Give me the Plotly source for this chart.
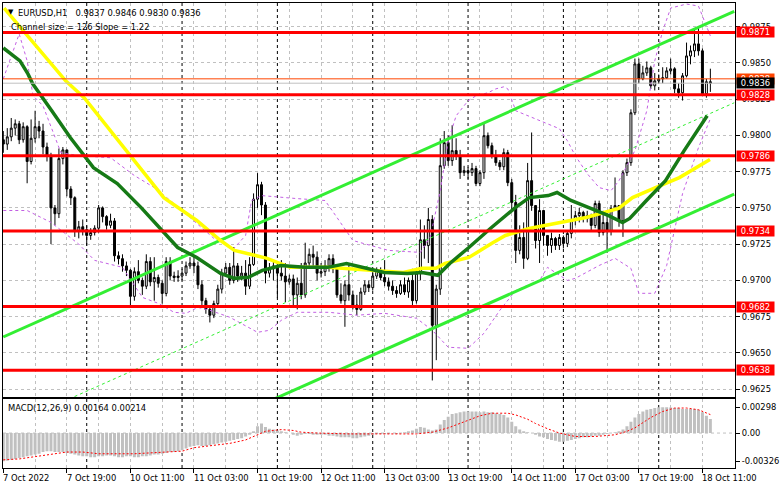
import plotly.graph_objects as go

# ---------------- data (EURUSD H1, 7 Oct 03:00 .. 18 Oct 13:00) ----------------
first_open = 0.9797
closes = [
    0.9794, 0.9799, 0.9805, 0.9808, 0.9797, 0.9806, 0.9782, 0.9798, 0.9806, 0.9803,
    0.9792, 0.9786, 0.9750, 0.9746, 0.9784, 0.9790, 0.9763, 0.9757, 0.9734, 0.9737,
    0.9735, 0.9731, 0.9733, 0.9736, 0.9750, 0.9744, 0.9738, 0.9741, 0.9717, 0.9715,
    0.9710, 0.9707, 0.9689, 0.9706, 0.9700, 0.9696, 0.9713, 0.9699, 0.9702, 0.9698,
    0.9691, 0.9713, 0.9703, 0.9702, 0.9703, 0.9705, 0.9710, 0.9712, 0.9710, 0.9697,
    0.9686, 0.9680, 0.9676, 0.9684, 0.9694, 0.9705, 0.9709, 0.9700, 0.9710, 0.9703,
    0.9705, 0.9696, 0.9711, 0.9756, 0.9766, 0.9752, 0.9705, 0.9708, 0.9710, 0.9705,
    0.9703, 0.9699, 0.9701, 0.9690, 0.9698, 0.9690, 0.9712, 0.9718, 0.9716, 0.9705,
    0.9706, 0.9710, 0.9715, 0.9708, 0.9690, 0.9686, 0.9697, 0.9690, 0.9683, 0.9680,
    0.9692, 0.9697, 0.9695, 0.9703, 0.9707, 0.9702, 0.9699, 0.9696, 0.9693, 0.9691,
    0.9697, 0.9692, 0.9700, 0.9686, 0.9705, 0.9728, 0.9724, 0.9742, 0.9669, 0.9694,
    0.97791, 0.97950, 0.97826, 0.97895, 0.97860, 0.97743, 0.97757, 0.97743, 0.97771, 0.97668,
    0.97743, 0.97998, 0.97929, 0.97860, 0.97812, 0.97784, 0.97881, 0.97674, 0.97537, 0.97207,
    0.97296, 0.97152, 0.97688, 0.97516, 0.97275, 0.97482, 0.97310, 0.97241, 0.97289, 0.97241,
    0.97296, 0.97255, 0.97324, 0.97413, 0.97447, 0.97468, 0.97427, 0.97447, 0.97379, 0.97530,
    0.97330, 0.97399, 0.97344, 0.97496, 0.97516, 0.97413, 0.97743, 0.97812, 0.98156, 0.98493,
    0.98390, 0.98431, 0.98466, 0.98342, 0.98376, 0.98390, 0.98397, 0.98445, 0.98459, 0.98321,
    0.98294, 0.98411, 0.98548, 0.98583, 0.98631, 0.98583, 0.98287, 0.9837, 0.9836,
]
highs = [
    0.9803, 0.9805, 0.9812, 0.9811, 0.9810, 0.9809, 0.9807, 0.9811, 0.9817, 0.9810,
    0.9808, 0.9795, 0.9788, 0.9752, 0.9791, 0.9792, 0.9790, 0.9765, 0.9758, 0.9741,
    0.9742, 0.9738, 0.9736, 0.9738, 0.9752, 0.9751, 0.9745, 0.9746, 0.9743, 0.9720,
    0.9718, 0.9713, 0.9708, 0.9709, 0.9714, 0.9702, 0.9718, 0.9716, 0.9716, 0.9704,
    0.9700, 0.9716, 0.9716, 0.9706, 0.9707, 0.9708, 0.9713, 0.9716, 0.9716, 0.9713,
    0.9700, 0.9688, 0.9683, 0.9686, 0.9697, 0.9708, 0.9712, 0.9712, 0.9723, 0.9712,
    0.9710, 0.9714, 0.9716, 0.9760, 0.9774, 0.9768, 0.9754, 0.9712, 0.9714, 0.9712,
    0.9714, 0.9712, 0.9704, 0.9704, 0.9702, 0.9712, 0.9726, 0.9722, 0.9724, 0.9720,
    0.9712, 0.9714, 0.9718, 0.9718, 0.9710, 0.9698, 0.9700, 0.9712, 0.9693, 0.9690,
    0.9695, 0.9700, 0.9700, 0.9706, 0.9709, 0.9709, 0.9714, 0.9702, 0.9700, 0.9696,
    0.9700, 0.9702, 0.9702, 0.9708, 0.9707, 0.9742, 0.9738, 0.9750, 0.9745, 0.9697,
    0.9798, 0.9803, 0.9800, 0.9807, 0.9798, 0.9790, 0.9779, 0.9778, 0.9781, 0.9779,
    0.9776, 0.9809, 0.9802, 0.9795, 0.9790, 0.9783, 0.9791, 0.9790, 0.9770, 0.9759,
    0.9738, 0.9740, 0.9781, 0.9802, 0.9752, 0.9756, 0.9745, 0.9731, 0.9733, 0.9730,
    0.9732, 0.9731, 0.9734, 0.9752, 0.9748, 0.9750, 0.9748, 0.9748, 0.9746, 0.9755,
    0.9755, 0.9748, 0.9747, 0.9752, 0.9771, 0.9752, 0.9776, 0.9784, 0.9818, 0.9853,
    0.9853, 0.9848, 0.9851, 0.9848, 0.9843, 0.9842, 0.9847, 0.9847, 0.9853, 0.9847,
    0.9836, 0.9843, 0.9864, 0.9862, 0.9873, 0.9874, 0.9860, 0.9839, 0.9846,
]
lows = [
    0.9788, 0.9790, 0.9796, 0.9800, 0.9794, 0.9795, 0.9767, 0.9780, 0.9795, 0.9798,
    0.9787, 0.9782, 0.9725, 0.9738, 0.9743, 0.9780, 0.9758, 0.9752, 0.9730, 0.9729,
    0.9731, 0.9724, 0.9728, 0.9731, 0.9733, 0.9740, 0.9735, 0.9736, 0.9713, 0.9711,
    0.9706, 0.9703, 0.9681, 0.9686, 0.9698, 0.9690, 0.9694, 0.9696, 0.9686, 0.9695,
    0.9684, 0.9689, 0.9700, 0.9699, 0.9699, 0.9700, 0.9703, 0.9708, 0.9705, 0.9694,
    0.9681, 0.9677, 0.9671, 0.9674, 0.9683, 0.9691, 0.9703, 0.9697, 0.9698, 0.9699,
    0.9700, 0.9690, 0.9694, 0.9710, 0.9750, 0.9745, 0.9698, 0.9702, 0.9700, 0.9688,
    0.9700, 0.9685, 0.9697, 0.9681, 0.9680, 0.9687, 0.9688, 0.9708, 0.9710, 0.9700,
    0.9702, 0.9703, 0.9706, 0.9705, 0.9688, 0.9684, 0.9668, 0.9686, 0.9680, 0.9676,
    0.9679, 0.9690, 0.9692, 0.9693, 0.9701, 0.9700, 0.9696, 0.9693, 0.9690, 0.9688,
    0.9690, 0.9690, 0.9688, 0.9683, 0.9684, 0.9700, 0.9715, 0.9712, 0.9631, 0.9645,
    0.9690, 0.9777, 0.9779, 0.9779, 0.9783, 0.9770, 0.9772, 0.9770, 0.9772, 0.9765,
    0.9765, 0.9770, 0.9791, 0.9784, 0.9779, 0.9776, 0.9776, 0.9765, 0.9748, 0.9712,
    0.9718, 0.9708, 0.9714, 0.9748, 0.9722, 0.9712, 0.9724, 0.9717, 0.9719, 0.9721,
    0.9721, 0.9722, 0.9723, 0.9729, 0.9738, 0.9740, 0.9740, 0.9740, 0.9734, 0.9736,
    0.9730, 0.9731, 0.9719, 0.9731, 0.9748, 0.9737, 0.9730, 0.9772, 0.9779, 0.9814,
    0.9836, 0.9838, 0.9841, 0.9832, 0.9831, 0.9836, 0.9836, 0.9839, 0.9842, 0.9829,
    0.9826, 0.9824, 0.9840, 0.9849, 0.9854, 0.9855, 0.9827, 0.9826, 0.9830,
]
opens = [first_open] + closes[:-1]
bars = list(range(len(closes)))

# support / resistance levels and current price lines
levels = [0.9871, 0.9828, 0.9786, 0.9734, 0.9682, 0.9638]
bid_price = 0.9836
orange_level = 0.9839
orange_label = "0.9838"

# equidistant channel (two anchor bars)
chan_bars = [0, 184]
chan_upper = [0.9661, 0.98855]
chan_mid = [0.9598, 0.98225]
chan_lower = [0.9535, 0.97595]

# moving averages
ma_green_bars = [0, 4.2, 6.2, 7.4, 12.2, 16.9, 22.7, 28.7, 34.7, 39.2, 43.9, 48.7, 54.7, 58.2,
                 61.7, 65.2, 69.9, 75.9, 81.7, 86.4, 91.2, 95.9, 101.7, 105.4, 109.4, 112.4,
                 117.2, 122.9, 128.9, 132.4, 137.2, 139.4, 142.9, 147.7, 152.4, 155.9, 157.7,
                 161.9, 166.7, 171.4, 177.2]
ma_green = [0.98603, 0.98514, 0.98424, 0.98356, 0.98170, 0.97984, 0.97778, 0.97668, 0.97502,
            0.97365, 0.97227, 0.97158, 0.97048, 0.97014, 0.97021, 0.97069, 0.97103, 0.97090,
            0.97090, 0.97117, 0.97083, 0.97055, 0.97048, 0.97055, 0.97035, 0.97117, 0.97227,
            0.97365, 0.97502, 0.97571, 0.97585, 0.97606, 0.97551, 0.97496, 0.97447, 0.97399,
            0.97427, 0.97551, 0.97688, 0.97895, 0.98135]
ma_yellow_bars = [0.2, 15.7, 20.4, 30.9, 40.4, 48.7, 54.7, 58.2, 62.9, 66.4, 72.2, 81.7, 93.4,
                  100.7, 105.4, 108.9, 111.2, 117.2, 122.9, 126.4, 132.4, 140.7, 146.7, 154.9,
                  158.4, 164.2, 170.2, 177.9]
ma_yellow = [0.98878, 0.98376, 0.98259, 0.97895, 0.97571, 0.97413, 0.97275, 0.97207, 0.97172,
             0.97152, 0.97090, 0.97090, 0.97069, 0.97055, 0.97083, 0.97083, 0.97117, 0.97158,
             0.97255, 0.97310, 0.97358, 0.97399, 0.97434, 0.97496, 0.97571, 0.97640, 0.97709,
             0.97833]

# Bollinger envelopes
bb_up_bars = [0, 2, 4, 6, 7.5, 10, 14.5, 19, 27, 33, 38, 43, 48, 53, 58, 61, 62.5, 65, 74, 81,
              84, 88, 97, 105, 107.5, 110, 112, 114, 117, 119, 122, 124, 126, 127, 129, 134,
              140, 142, 144, 147, 150, 153, 155, 159, 162, 164, 166, 168, 172, 175, 177, 178]
bb_up = [0.98390, 0.98550, 0.98700, 0.98514, 0.98273, 0.98204, 0.97881, 0.97860, 0.97846,
         0.97723, 0.97640, 0.97530, 0.97413, 0.97290, 0.97220, 0.97310, 0.97550, 0.97585,
         0.97564, 0.97551, 0.97434, 0.97275, 0.97207, 0.97193, 0.97300, 0.97619, 0.97963,
         0.98135, 0.98239, 0.98273, 0.98294, 0.98321, 0.98335, 0.98321, 0.98170, 0.98115,
         0.98046, 0.97963, 0.97860, 0.97736, 0.97640, 0.97619, 0.97688, 0.97895, 0.98170,
         0.98514, 0.98720, 0.98878, 0.98906, 0.98892, 0.98755, 0.98686]
bb_lo_bars = [0, 6, 12, 19, 23, 30, 35, 39, 43, 46, 49, 52, 57, 64, 67, 70, 74, 82, 89, 96,
              104, 108, 112, 117, 121, 125, 129, 135, 137, 142, 144, 150, 154, 158, 160, 164,
              167, 171, 175, 177, 178]
bb_lo = [0.97482, 0.97482, 0.97400, 0.97250, 0.97138, 0.97090, 0.96883, 0.96842, 0.96780,
         0.96773, 0.96814, 0.96794, 0.96746, 0.96642, 0.96656, 0.96725, 0.96780, 0.96780,
         0.96760, 0.96773, 0.96739, 0.96656, 0.96539, 0.96532, 0.96635, 0.96794, 0.96931,
         0.97000, 0.97090, 0.97000, 0.97014, 0.97103, 0.97152, 0.97083, 0.96911, 0.96911,
         0.97103, 0.97599, 0.97915, 0.98053, 0.98115]

# MACD(12,26,9): histogram per bar, signal line
macd_hist = [
    -0.00326, -0.0032, -0.0031, -0.0030, -0.0029, -0.0028, -0.0027, -0.0026, -0.0025, -0.0024,
    -0.0022, -0.0021, -0.0021, -0.0022, -0.0022, -0.0022, -0.0023, -0.0024, -0.0025, -0.0026,
    -0.0027, -0.0027, -0.0028, -0.0028, -0.0027, -0.0027, -0.0026, -0.0026, -0.0027, -0.0028,
    -0.0028, -0.0027, -0.0027, -0.0028, -0.0028, -0.0027, -0.0027, -0.0026, -0.0025, -0.0025,
    -0.0024, -0.0023, -0.0022, -0.0022, -0.0021, -0.0020, -0.0018, -0.0016, -0.0015, -0.0014,
    -0.0015, -0.0015, -0.0014, -0.0013, -0.0012, -0.0011, -0.0010, -0.0009, -0.0008, -0.0007,
    -0.0006, -0.0004, -0.0002, 0.0002, 0.0008, 0.0011, 0.0007, 0.0005, 0.0004, 0.0003,
    0.0002, 0.0001, 0.0000, -0.0002, -0.0003, -0.0002, -0.0001, -0.0001, -0.0002, -0.0002,
    -0.0002, -0.0002, -0.0003, -0.0003, -0.0004, -0.0005, -0.0005, -0.0005, -0.0006, -0.0006,
    -0.0005, -0.0004, -0.0003, -0.0002, -0.0001, -0.0001, -0.0001, -0.0001, 0.0000, -0.0001,
    0.0000, 0.0001, 0.0002, 0.0003, 0.0005, 0.0007, 0.0006, 0.0004, 0.0003, 0.0004,
    0.0010, 0.0015, 0.0019, 0.0022, 0.0023, 0.0024, 0.0025, 0.0025, 0.0025, 0.0025,
    0.0024, 0.0025, 0.0024, 0.0024, 0.0023, 0.0022, 0.0021, 0.0018, 0.0013, 0.0008,
    0.0004, 0.0002, 0.0001, 0.0000, -0.0002, -0.0004, -0.0005, -0.0007, -0.0008, -0.0009,
    -0.0010, -0.0010, -0.0009, -0.0008, -0.0007, -0.0006, -0.0005, -0.0005, -0.0004, -0.0003,
    -0.0003, -0.0002, -0.0001, 0.0000, 0.0001, 0.0002, 0.0004, 0.0008, 0.0013, 0.0018,
    0.0022, 0.0025, 0.0027, 0.0028, 0.0029, 0.00298, 0.00298, 0.00298, 0.00297, 0.0029,
    0.0029, 0.0028, 0.0028, 0.0028, 0.0028, 0.0027, 0.0024, 0.0020, 0.00164,
]
sig_bars = [0, 4, 7, 12, 16, 20, 24, 29, 33, 37, 41, 45, 48, 52, 57, 61, 64, 66, 70, 73, 75,
            79, 87, 97, 104, 108, 112, 116, 120, 123, 127, 129, 132, 134, 137, 140, 144, 149,
            154, 157, 159, 161, 163, 166, 169, 172, 175, 178]
sig = [-0.0031, -0.0030, -0.0028, -0.0025, -0.0022, -0.0022, -0.0024, -0.0024, -0.0024,
       -0.0023, -0.0022, -0.0021, -0.0017, -0.0015, -0.0012, -0.0008, -0.0002, 0.0002, 0.0004,
       0.0003, 0.0001, 0.0000, -0.0001, -0.0001, -0.0001, 0.0001, 0.0006, 0.0013, 0.0020,
       0.0023, 0.0023, 0.0021, 0.0016, 0.0011, 0.0005, 0.0000, -0.0004, -0.0004, -0.0002,
       0.0002, 0.0006, 0.0012, 0.0018, 0.0025, 0.0029, 0.0029, 0.0027, 0.00214]

day_starts = [21, 45, 69, 93, 117, 141, 165]
tick_bars = [0, 16, 32, 48, 64, 80, 96, 112, 128, 144, 160, 176]
tick_text = ["7 Oct 2022", "7 Oct 19:00", "10 Oct 11:00", "11 Oct 03:00", "11 Oct 19:00",
             "12 Oct 11:00", "13 Oct 03:00", "13 Oct 19:00", "14 Oct 11:00", "17 Oct 03:00",
             "17 Oct 19:00", "18 Oct 11:00"]
grid_bars = [8, 24, 40, 56, 72, 88, 104, 120, 136, 152, 168, 184]
price_ticks = [0.9625, 0.9650, 0.9675, 0.9700, 0.9725, 0.9750, 0.9775, 0.9800, 0.9825, 0.9850, 0.9875]
macd_ticks = [0.00298, 0.0, -0.00326]
macd_tick_text = ["0.00298", "0.00", "-0.00326"]

header = "EURUSD,H1\u00a0\u00a0 0.9837 0.9846 0.9830 0.9836"
channel_text = "Channel size = 126 Slope = 1.22"
macd_text = "MACD(12,26,9) 0.00164 0.00214"

# ---------------- figure ----------------
FONT = "DejaVu Sans"
FS = 8.4
GRID = "#C0C0C0"
XR = [-0.075, 184.2]

fig = go.Figure()

fig.add_trace(go.Candlestick(
    x=bars, open=opens, high=highs, low=lows, close=closes,
    increasing=dict(line=dict(color="black", width=1), fillcolor="white"),
    decreasing=dict(line=dict(color="black", width=1), fillcolor="black"),
    whiskerwidth=0, xaxis="x", yaxis="y", showlegend=False, hoverinfo="skip"))

purple = "#C25FE3"
fig.add_trace(go.Scatter(x=bb_up_bars, y=bb_up, mode="lines",
                         line=dict(color=purple, width=1, dash="3px,3px"), showlegend=False))
fig.add_trace(go.Scatter(x=bb_lo_bars, y=bb_lo, mode="lines",
                         line=dict(color=purple, width=1, dash="3px,3px"), showlegend=False))

lime = "#33EE33"
fig.add_trace(go.Scatter(x=chan_bars, y=chan_mid, mode="lines",
                         line=dict(color=lime, width=1, dash="3px,3px"), showlegend=False))
fig.add_trace(go.Scatter(x=chan_bars, y=chan_upper, mode="lines",
                         line=dict(color=lime, width=3), showlegend=False))
fig.add_trace(go.Scatter(x=chan_bars, y=chan_lower, mode="lines",
                         line=dict(color=lime, width=3), showlegend=False))

fig.add_trace(go.Scatter(x=ma_yellow_bars, y=ma_yellow, mode="lines",
                         line=dict(color="#FFFF00", width=3.5), showlegend=False))
fig.add_trace(go.Scatter(x=ma_green_bars, y=ma_green, mode="lines",
                         line=dict(color="#167A16", width=3.5), showlegend=False))

# MACD panel
fig.add_trace(go.Bar(x=bars, y=macd_hist, marker=dict(color="#C0C0C0", line=dict(width=0)),
                     xaxis="x2", yaxis="y2", showlegend=False))
fig.add_trace(go.Scatter(x=sig_bars, y=sig, mode="lines", xaxis="x2", yaxis="y2",
                         line=dict(color="#FF0000", width=1, dash="2px,2px"), showlegend=False))

shapes = []
for d in day_starts:
    shapes.append(dict(type="line", xref="x", yref="paper", x0=d, x1=d, y0=0, y1=1,
                       line=dict(color="black", width=1, dash="3px,3px"), layer="between"))
shapes.append(dict(type="line", xref="paper", yref="y2", x0=0, x1=1, y0=0, y1=0,
                   line=dict(color=GRID, width=1, dash="3px,3px"), layer="between"))
shapes.append(dict(type="line", xref="paper", yref="y", x0=0, x1=1, y0=bid_price, y1=bid_price,
                   line=dict(color="#C0C0C0", width=1), layer="above"))
shapes.append(dict(type="line", xref="paper", yref="y", x0=0, x1=1, y0=orange_level, y1=orange_level,
                   line=dict(color="#FF4500", width=1), layer="above"))
for lv in levels:
    shapes.append(dict(type="line", xref="paper", yref="y", x0=0, x1=1, y0=lv, y1=lv,
                       line=dict(color="#FF0000", width=3), layer="above"))

annotations = []
def price_box(val, text, bg):
    annotations.append(dict(xref="paper", yref="y", x=1, y=val, xanchor="left", yanchor="middle",
                            xshift=1, text=text, showarrow=False, bgcolor=bg, width=37, height=10,
                            align="center", font=dict(family=FONT, size=FS, color="white"),
                            borderpad=0))
price_box(orange_level, orange_label, "#FF4500")
for lv in levels:
    price_box(lv, "%.4f" % lv, "#FF0000")
price_box(bid_price, "%.4f" % bid_price, "#000000")

for b, t in zip(tick_bars, tick_text):
    annotations.append(dict(xref="x2", yref="paper", x=b, y=0, xanchor="left", yanchor="top",
                            xshift=-2, yshift=-3, text=t, showarrow=False,
                            font=dict(family=FONT, size=FS, color="black")))

annotations.append(dict(xref="paper", yref="paper", x=0, y=1, xanchor="left", yanchor="top",
                        xshift=3, yshift=-3, text="\u25BC", showarrow=False,
                        font=dict(family=FONT, size=7, color="black")))
annotations.append(dict(xref="paper", yref="paper", x=0, y=1, xanchor="left", yanchor="top",
                        xshift=13, yshift=-3, text=header, showarrow=False,
                        font=dict(family=FONT, size=FS, color="black")))
annotations.append(dict(xref="paper", yref="paper", x=0, y=1, xanchor="left", yanchor="top",
                        xshift=6, yshift=-17, text=channel_text, showarrow=False,
                        font=dict(family=FONT, size=FS, color="black")))
annotations.append(dict(xref="paper", yref="y2", x=0, y=0.0039, xanchor="left", yanchor="top",
                        xshift=3, yshift=-2, text=macd_text, showarrow=False,
                        font=dict(family=FONT, size=FS, color="black")))

axis_common = dict(showline=True, linecolor="black", linewidth=1, mirror=True, zeroline=False)

fig.update_layout(
    width=781, height=489,
    margin=dict(l=3, r=41, t=2, b=21),
    paper_bgcolor="white", plot_bgcolor="white",
    showlegend=False, bargap=0.25,
    font=dict(family=FONT, size=FS, color="black"),
    xaxis=dict(domain=[0, 1], range=XR, anchor="y", tickmode="array", tickvals=tick_bars,
               showticklabels=False, ticks="", showgrid=True, gridcolor=GRID, griddash="3px,3px",
               gridwidth=1, minor=dict(tickvals=grid_bars, showgrid=True, gridcolor=GRID,
                                       griddash="3px,3px", gridwidth=1, ticks=""),
               rangeslider=dict(visible=False), **axis_common),
    yaxis=dict(domain=[0.1524, 1], range=[0.96195, 0.98913], side="right", anchor="x",
               tickmode="array", tickvals=price_ticks, ticktext=["%.4f" % v for v in price_ticks],
               ticks="outside", ticklen=4, tickcolor="black", showgrid=True, gridcolor=GRID,
               griddash="3px,3px", gridwidth=1,
               tickfont=dict(family=FONT, size=FS, color="black"), **axis_common),
    xaxis2=dict(domain=[0, 1], range=XR, anchor="y2", matches="x", tickmode="array",
                tickvals=tick_bars, showticklabels=False, ticks="outside", ticklen=4,
                tickcolor="black", showgrid=True, gridcolor=GRID, griddash="3px,3px", gridwidth=1,
                minor=dict(tickvals=grid_bars, showgrid=True, gridcolor=GRID,
                           griddash="3px,3px", gridwidth=1, ticks=""),
                **axis_common),
    yaxis2=dict(domain=[0, 0.1481], range=[-0.00405, 0.00393], side="right", anchor="x2",
                tickmode="array", tickvals=macd_ticks, ticktext=macd_tick_text,
                ticks="outside", ticklen=4, tickcolor="black", showgrid=False,
                tickfont=dict(family=FONT, size=FS, color="black"), **axis_common),
    shapes=shapes, annotations=annotations,
)

fig.write_html("out.html", config={"displayModeBar": False, "staticPlot": True},
               post_script="document.body.style.margin='0';document.body.style.overflow='hidden';")
